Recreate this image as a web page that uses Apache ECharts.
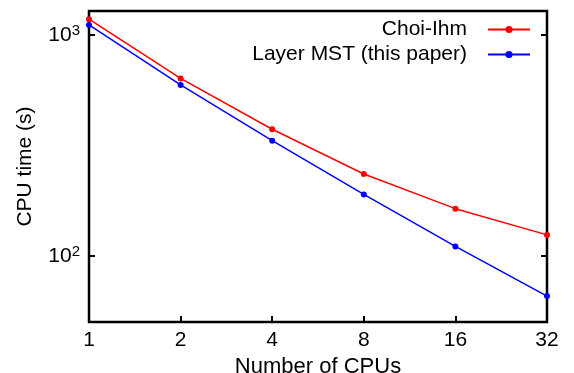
<!DOCTYPE html>
<html>
<head>
<meta charset="utf-8">
<script src="https://cdn.jsdelivr.net/npm/echarts@6/dist/echarts.min.js"></script>
<style>
  html, body { margin: 0; padding: 0; background: #fff; }
  #chart { width: 574px; height: 373px; }
</style>
</head>
<body>
<div id="chart"></div>
<script>
// data
const cpus = [1, 2, 4, 8, 16, 32];
const choiIhm = [1175, 634, 373, 234, 163, 124];
const layerMst = [1107, 592, 331, 189, 110, 65.5];
const yTickLabels = { 100: '2', 1000: '3' };

const FONT = 'Liberation Sans, Arial, Helvetica, sans-serif';

const chart = echarts.init(document.getElementById('chart'), null, { renderer: 'canvas' });

const pairs = (ys) => cpus.map((x, i) => [x, ys[i]]);

const yAxisBase = {
  type: 'log',
  logBase: 10,
  min: 50,
  max: 1280,
  splitLine: { show: false },
  axisLine: { show: false },
  axisTick: { show: true, inside: true, length: 6, lineStyle: { color: '#000', width: 2 } },
  minorTick: { show: false }
};

const option = {
  animation: false,
  textStyle: { fontFamily: FONT },
  grid: {
    left: 89, right: 27, top: 11, bottom: 51,
    outerBoundsMode: 'none',
    containLabel: false,
    show: true,
    borderColor: '#000',
    borderWidth: 2.5,
    backgroundColor: 'transparent'
  },
  legend: {
    right: 38,
    top: 14,
    orient: 'vertical',
    align: 'right',
    itemWidth: 42,
    itemHeight: 9,
    itemGap: 4,
    textStyle: { fontSize: 21, color: '#000', fontFamily: FONT, padding: [0, 16, 0, 0] },
    data: ['Choi-Ihm', 'Layer MST (this paper)']
  },
  xAxis: {
    type: 'log',
    logBase: 2,
    min: 1,
    max: 32,
    name: 'Number of CPUs',
    nameLocation: 'middle',
    nameGap: 26,
    nameTextStyle: { fontSize: 22, color: '#000', fontFamily: FONT },
    splitLine: { show: false },
    axisLine: { show: false },
    axisTick: { show: true, inside: true, length: 6, lineStyle: { color: '#000', width: 2 } },
    axisLabel: { fontSize: 21, color: '#000', margin: 8, fontFamily: FONT }
  },
  yAxis: [
    Object.assign({}, yAxisBase, {
      position: 'left',
      name: 'CPU time (s)',
      nameLocation: 'middle',
      nameGap: 53,
      nameRotate: 90,
      nameTextStyle: { fontSize: 21, color: '#000', fontFamily: FONT },
      axisLabel: {
        margin: 9,
        color: '#000',
        formatter: (v) => {
          const e = yTickLabels[Math.round(v)];
          return e ? '{a|10}{b|' + e + '}' : '';
        },
        rich: {
          a: { fontSize: 21, color: '#000', fontFamily: FONT, lineHeight: 22, verticalAlign: 'bottom' },
          b: { fontSize: 15, color: '#000', fontFamily: FONT, lineHeight: 15, verticalAlign: 'top', padding: [0, 0, 7, 0] }
        }
      }
    }),
    Object.assign({}, yAxisBase, {
      position: 'right',
      axisLabel: { show: false }
    })
  ],
  series: [
    {
      name: 'Choi-Ihm',
      type: 'line',
      data: pairs(choiIhm),
      symbol: 'circle',
      symbolSize: 6,
      color: '#ff0000',
      lineStyle: { width: 1.5, color: '#ff0000' },
      itemStyle: { color: '#ff0000' }
    },
    {
      name: 'Layer MST (this paper)',
      type: 'line',
      data: pairs(layerMst),
      symbol: 'circle',
      symbolSize: 6,
      color: '#0000ff',
      lineStyle: { width: 1.5, color: '#0000ff' },
      itemStyle: { color: '#0000ff' }
    }
  ]
};

chart.setOption(option);
</script>
</body>
</html>
